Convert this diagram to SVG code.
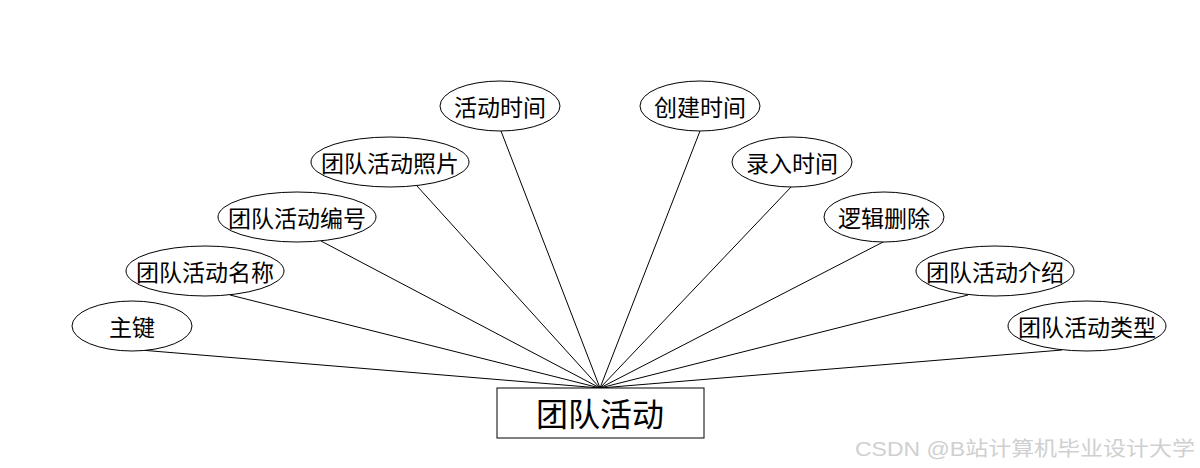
<svg xmlns="http://www.w3.org/2000/svg" width="1200" height="468" viewBox="0 0 1200 468">
<style>
.attr ellipse{fill:#fff;stroke:#000;stroke-width:1}
.attr text{font-family:"Noto Sans CJK SC","Liberation Sans",sans-serif;font-size:23px;fill:#000;text-anchor:middle;dominant-baseline:central}
.conn line{stroke:#000;stroke-width:1}
.ent rect{fill:#fff;stroke:#000;stroke-width:1}
.ent text{font-family:"Noto Sans CJK SC","Liberation Sans",sans-serif;font-size:32px;fill:#000;text-anchor:middle;dominant-baseline:central}
.wm{font-family:"Liberation Sans","Noto Sans CJK SC",sans-serif;font-size:20px;fill:#d0d0d0}
</style>
<rect width="1200" height="468" fill="#fff"/>
<g id="connectors" class="conn">
<line x1="140" y1="350" x2="600" y2="388"/>
<line x1="230" y1="295" x2="600" y2="388"/>
<line x1="321" y1="241" x2="600" y2="388"/>
<line x1="417" y1="186" x2="600" y2="388"/>
<line x1="501" y1="131" x2="600" y2="388"/>
<line x1="700" y1="131" x2="600" y2="388"/>
<line x1="792" y1="186" x2="600" y2="388"/>
<line x1="885" y1="241" x2="600" y2="388"/>
<line x1="968" y1="295" x2="600" y2="388"/>
<line x1="1062" y1="350" x2="600" y2="388"/>
</g>
<g id="n-zhujian" class="attr"><ellipse cx="132" cy="326" rx="60" ry="25"/><text x="132" y="326">主键</text></g>
<g id="n-mingcheng" class="attr"><ellipse cx="205" cy="271" rx="79" ry="25"/><text x="205" y="271">团队活动名称</text></g>
<g id="n-bianhao" class="attr"><ellipse cx="297" cy="217" rx="79" ry="25"/><text x="297" y="217">团队活动编号</text></g>
<g id="n-zhaopian" class="attr"><ellipse cx="390" cy="162" rx="79" ry="25"/><text x="390" y="162">团队活动照片</text></g>
<g id="n-huodongshijian" class="attr"><ellipse cx="500" cy="106" rx="60" ry="25"/><text x="500" y="106">活动时间</text></g>
<g id="n-chuangjian" class="attr"><ellipse cx="700" cy="106" rx="60" ry="25"/><text x="700" y="106">创建时间</text></g>
<g id="n-luru" class="attr"><ellipse cx="792" cy="162" rx="60" ry="25"/><text x="792" y="162">录入时间</text></g>
<g id="n-luoji" class="attr"><ellipse cx="884" cy="217" rx="60" ry="25"/><text x="884" y="217">逻辑删除</text></g>
<g id="n-jieshao" class="attr"><ellipse cx="995" cy="271" rx="79" ry="25"/><text x="995" y="271">团队活动介绍</text></g>
<g id="n-leixing" class="attr"><ellipse cx="1087" cy="326" rx="79" ry="25"/><text x="1087" y="326">团队活动类型</text></g>
<g id="n-entity" class="ent"><rect x="497" y="388" width="207" height="50"/><text x="600" y="412">团队活动</text></g>
<text class="wm" x="855" y="456" textLength="340" lengthAdjust="spacingAndGlyphs">CSDN @B站计算机毕业设计大学</text>
</svg>
